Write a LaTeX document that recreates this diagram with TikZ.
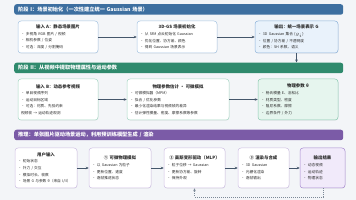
\documentclass[tikz,border=0pt]{standalone}
\usepackage{fontspec}
\setmainfont{Noto Sans CJK SC}
\usetikzlibrary{arrows.meta,shadows}
\definecolor{bgc}{HTML}{F3F5F8}
\definecolor{blueA}{HTML}{3D6FA0}
\definecolor{greenA}{HTML}{2F8A6D}
\definecolor{purpA}{HTML}{7B5BA7}
\definecolor{blueL}{HTML}{A9C6E3}
\definecolor{blueF}{HTML}{E9F2FB}
\definecolor{blueD}{HTML}{8DB3DA}
\definecolor{greenL}{HTML}{A8D8C6}
\definecolor{greenF}{HTML}{E6F5EE}
\definecolor{greenD}{HTML}{8BCAB1}
\definecolor{purpL}{HTML}{CFC0E4}
\definecolor{purpF}{HTML}{F1EAFA}
\definecolor{purpD}{HTML}{A88BD0}
\definecolor{arr}{HTML}{44566B}
\definecolor{txt}{HTML}{2B2B2B}
\newcommand{\bxt}[2]{{\centering\bfseries\fontsize{4.4}{6.4}\selectfont #1\par}\raggedright #2}
\tikzset{
  banner/.style={anchor=north west, minimum height=10.5pt, rounded corners=2.5pt, text=white,
    font=\bfseries\fontsize{5.2}{6}\selectfont, text width=321pt, inner xsep=4pt, inner ysep=0pt, align=left},
  box/.style={fill=white, rounded corners=3pt, line width=0.5pt, inner xsep=3pt, inner ysep=2pt,
    font=\fontsize{3.7}{6.6}\selectfont, text=txt,
    drop shadow={shadow xshift=0.4pt, shadow yshift=-0.6pt, opacity=0.12}},
  conn/.style={-{Stealth[length=3pt,width=2.6pt]}, line width=0.7pt, draw=arr},
  fb/.style={-{Stealth[length=3pt,width=2.6pt]}, line width=0.5pt, draw=arr!70, dashed, dash pattern=on 1pt off 1pt}
}
\begin{document}
\begin{tikzpicture}[x=1pt,y=-1pt]
\fill[bgc] (0,0) rectangle (356,200);
\useasboundingbox (0,0) rectangle (356,200);

% Stage I
\node[banner, fill=blueA] (s1) at (14,4) {阶段 I：场景初始化（一次性建立统一 Gaussian 场景）};
\node[box, draw=blueL, minimum width=80pt, minimum height=32pt, text width=74pt] (a1) at (58,37)
  {\bxt{输入 A：静态场景图片}{• 多视角 RGB 图片 / 视频\\• 相机参数 / 位姿\\• 可选：深度 / 分割掩码}};
\node[box, draw=blueL, minimum width=80pt, minimum height=32pt, text width=74pt] (a2) at (177,37)
  {\bxt{3D-GS 场景初始化}{• 从 SfM 点云初始化 Gaussian\\• 优化位置、协方差、颜色\\• 得到 Gaussian 场景表示}};
\node[box, draw=blueD, fill=blueF, minimum width=83pt, minimum height=32pt, text width=77pt] (a3) at (296.5,37)
  {\bxt{输出：统一场景表示 G}{• 3D Gaussian 集合 \{$g_i$\}\\• 位置 / 协方差 / 不透明度\\• 颜色：SH 系数、语义}};
\draw[conn] (a1) -- (a2);
\draw[conn] (a2) -- (a3);

% Stage II
\node[banner, fill=greenA] (s2) at (14,62.5) {阶段 II：从视频中提取物理属性与运动参数};
\draw[conn] (a3.south) -- (s2.north -| a3.south);
\node[box, draw=greenL, minimum width=80pt, minimum height=41pt, text width=74pt] (b1) at (58,99.5)
  {\bxt{输入 B：动态参考视频}{• 单目视频序列\\• 运动目标区域\\• 可选：材质、先验约束\\视频帧 → 运动轨迹观测}};
\node[box, draw=greenL, minimum width=102pt, minimum height=41pt, text width=96pt] (b2) at (178,99.5)
  {\bxt{物理参数估计 · 可微模拟}{• 可微模拟器（MPM）\\• 拟合 / 优化参数\\• 最小化渲染结果与视频帧的差异\\• 估计弹性模量、密度、摩擦系数等参数}};
\node[box, draw=greenD, fill=greenF, minimum width=80pt, minimum height=41pt, text width=74pt] (b3) at (298,99.5)
  {\bxt{物理参数 θ}{• 杨氏模量 E、泊松比\\• 材质类型、密度\\• 阻尼系数、摩擦\\• 边界条件 / 外力}};
\draw[conn] (b1) -- (b2);
\draw[conn] (b2) -- (b3);

% Stage III
\node[banner, fill=purpA] (s3) at (14,129.5) {推理：单张图片驱动场景运动，利用预训练模型生成 / 渲染};
\node[box, draw=purpL, minimum width=62pt, minimum height=40pt, text width=56pt] (c1) at (46,168)
  {\bxt{用户输入}{• 初始状态\\• 外力 / 交互\\• 模拟时长、帧数\\• 场景 G 与参数 θ（来自 I/II）}};
\node[box, draw=purpL, minimum width=62pt, minimum height=40pt, text width=56pt] (c2) at (120,168)
  {\bxt{① 可微物理模拟}{• 以 Gaussian 为粒子\\• 更新位置、速度\\• 逐帧推进状态}};
\node[box, draw=purpL, minimum width=61pt, minimum height=40pt, text width=55pt] (c3) at (194.5,168)
  {\bxt{② 高斯变形驱动（MLP）}{• 粒子位移 → Gaussian\\• 更新协方差、旋转\\• 保持外观}};
\node[box, draw=purpL, minimum width=51pt, minimum height=40pt, text width=45pt] (c4) at (263.5,168)
  {\bxt{③ 渲染与合成}{• 3D Gaussian\\• 光栅化渲染\\• 逐帧输出}};
\node[box, draw=purpD, fill=purpF, minimum width=45pt, minimum height=40pt, text width=39pt] (c5) at (322.5,168)
  {\bxt{输出结果}{• 动态视频\\• 运动轨迹\\• 物理状态}};
\draw[conn] (c1) -- (c2);
\draw[conn] (c2) -- (c3);
\draw[conn] (c3) -- (c4);
\draw[conn] (c4) -- (c5);
\coordinate (f1) at (323,197);
\coordinate (f2) at (194.5,197);
\draw[fb] (c5.south -| f1) -- (f1) -- (f2) -- (c3.south);
\end{tikzpicture}
\end{document}
